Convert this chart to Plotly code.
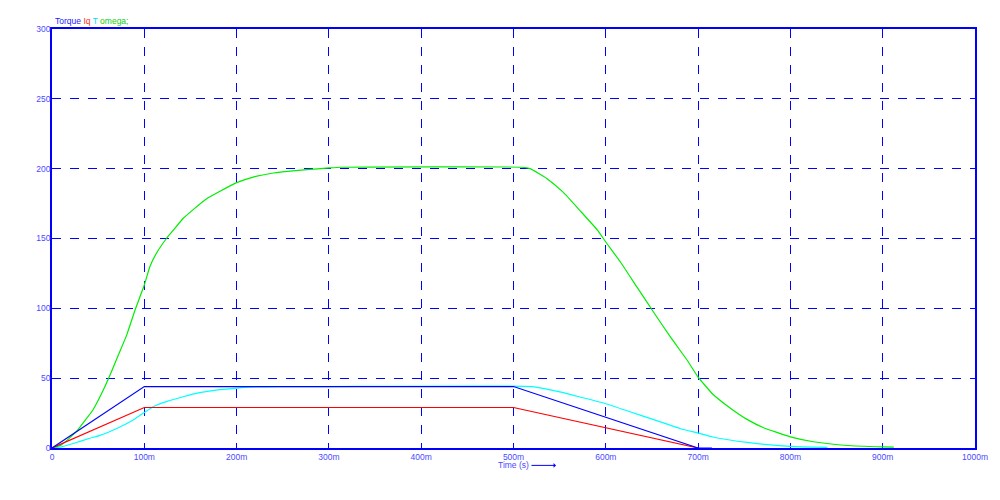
import plotly.graph_objects as go

# time in seconds
torque_t = [0, 0.1, 0.5, 0.7, 0.715]
torque_v = [0, 44, 44, 0, 0]

iq_t = [0, 0.1, 0.5, 0.7]
iq_v = [0, 29, 29, 0]

T_t = [0, 0.01, 0.023, 0.041, 0.052, 0.073, 0.088, 0.1, 0.1095, 0.124, 0.142,
       0.16, 0.178, 0.2, 0.214, 0.247, 0.3, 0.52, 0.536, 0.554, 0.572, 0.6,
       0.627, 0.652, 0.681, 0.7, 0.716, 0.753, 0.8, 0.84]
T_v = [0, 0.8, 3.2, 7.0, 9.0, 14.9, 20.1, 25.4, 29.6, 33.2, 36.7,
       39.6, 41.5, 42.9, 43.6, 44, 44, 44, 42.2, 39.6, 36.5, 31.7,
       25.8, 20.3, 13.8, 10.7, 7.9, 4.0, 1.2, 0.5]

omega_t = [0, 0.01, 0.021, 0.028, 0.035, 0.0445, 0.054, 0.063, 0.072, 0.081,
           0.09, 0.0953, 0.1, 0.106, 0.113, 0.124, 0.1315, 0.142, 0.153, 0.168,
           0.182, 0.2, 0.218, 0.24, 0.258, 0.276, 0.3, 0.313, 0.509, 0.518,
           0.536, 0.554, 0.572, 0.591, 0.6, 0.616, 0.634, 0.652, 0.67, 0.688,
           0.7, 0.716, 0.735, 0.753, 0.771, 0.8, 0.825, 0.862, 0.9, 0.912]
omega_v = [0, 2.2, 8.3, 13, 19, 27.4, 39.3, 52.4, 66.7, 81,
           98.8, 108.3, 116.7, 129.8, 139.3, 150, 156, 164.3, 170.7, 178.6,
           183.8, 190, 194, 196.9, 198.3, 199.3, 200.5, 201, 201, 200,
           193, 183, 170, 156, 147.5, 133, 115, 97, 79.5, 63,
           50.8, 38.5, 28.5, 20.5, 14.5, 8.0, 4.5, 1.8, 0.8, 0.6]

x_ticks = [0, 0.1, 0.2, 0.3, 0.4, 0.5, 0.6, 0.7, 0.8, 0.9, 1.0]
x_labels = ["0", "100m", "200m", "300m", "400m", "500m", "600m", "700m", "800m", "900m", "1000m"]
y_ticks = [0, 50, 100, 150, 200, 250, 300]

fig = go.Figure()
fig.add_trace(go.Scatter(x=T_t, y=T_v, mode="lines", line=dict(color="#00ffff", width=1.2, shape="spline", smoothing=0.4)))
fig.add_trace(go.Scatter(x=omega_t, y=omega_v, mode="lines", line=dict(color="#00ee00", width=1.2, shape="spline", smoothing=0.4)))
fig.add_trace(go.Scatter(x=iq_t, y=iq_v, mode="lines", line=dict(color="#ff0000", width=1.2)))
fig.add_trace(go.Scatter(x=torque_t, y=torque_v, mode="lines", line=dict(color="#0000ff", width=1.2)))

axis_font = dict(family="Liberation Sans, Arial", size=8.5, color="#4a4aff")

fig.update_xaxes(range=[0, 1], tickvals=x_ticks, ticktext=x_labels,
                 showgrid=True, gridcolor="#0000ff", griddash="dash", gridwidth=1,
                 showline=True, linecolor="#0000ff", linewidth=1.5, mirror=True,
                 zeroline=False, tickfont=axis_font, ticks="")
fig.update_yaxes(range=[0, 300], tickvals=y_ticks,
                 showgrid=True, gridcolor="#0000ff", griddash="dash", gridwidth=1,
                 showline=True, linecolor="#0000ff", linewidth=1.5, mirror=True,
                 zeroline=False, tickfont=axis_font, ticks="", ticklabelstandoff=-2)

legend_text = ('<span style="color:#2020ff">Torque</span> '
               '<span style="color:#ff3020">Iq</span> '
               '<span style="color:#00e0f0">T</span> '
               '<span style="color:#10d010">omega;</span>')
fig.add_annotation(x=0.001, y=1.019, xref="paper", yref="paper", text=legend_text,
                   showarrow=False, xanchor="left", yanchor="middle",
                   font=dict(family="Liberation Sans, Arial", size=8.5))
fig.add_annotation(x=0.5, y=-0.0415, xref="paper", yref="paper", text="Time (s)",
                   showarrow=False, xanchor="center", yanchor="middle",
                   font=dict(family="Liberation Sans, Arial", size=8.5, color="#4a4aff"))
fig.add_annotation(x=0.546, y=-0.0415, xref="paper", yref="paper", text="",
                   showarrow=True, ax=-26, ay=0, arrowhead=1, arrowsize=0.8,
                   arrowwidth=1, arrowcolor="#0000ff")

fig.update_layout(width=1000, height=500, showlegend=False,
                  plot_bgcolor="white", paper_bgcolor="white",
                  margin=dict(l=52, r=25, t=29, b=52))

fig.write_html("out.html", config={"displayModeBar": False},
               post_script="document.body.style.margin='0px';")
